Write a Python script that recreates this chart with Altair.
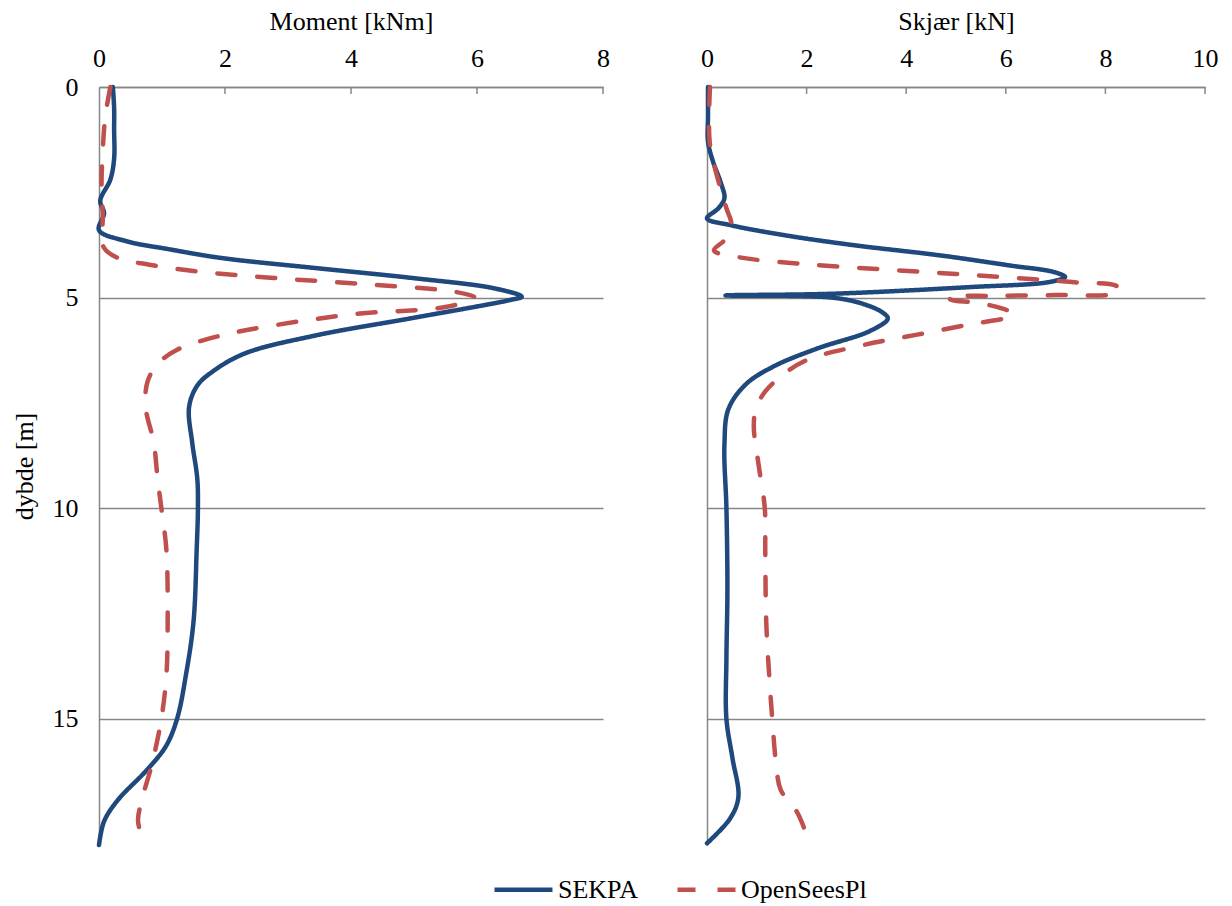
import altair as alt
import pandas as pd

# ---------------- data ----------------
SERIES = ["SEKPA", "OpenSeesPl"]

mom_sekpa_depth = [0, 0.5, 1.0, 1.7, 2.2, 2.7, 3.0, 3.4, 3.66, 3.85, 4.06, 4.3, 4.54, 4.78, 4.98,
                   5.06, 5.48, 5.9, 6.33, 6.75, 7.09, 7.6, 8.45, 9.3, 10, 11, 12.7, 13.96, 15,
                   15.66, 16.25, 16.93, 17.44, 18]
mom_sekpa_val = [0.22, 0.24, 0.24, 0.24, 0.18, 0.02, 0.08, 0.0, 0.43, 1.1, 1.94, 3.44, 5.0, 6.27, 6.71,
                 6.52, 5.0, 3.44, 2.31, 1.81, 1.56, 1.43, 1.48, 1.56, 1.57, 1.55, 1.5, 1.38, 1.24,
                 1.06, 0.74, 0.30, 0.08, 0.0]

mom_os_depth = [0, 0.7, 1.5, 2.3, 3.1, 3.5, 3.82, 4.06, 4.22, 4.38, 4.54, 4.70, 4.86, 5.0, 5.22,
                5.39, 5.65, 5.9, 6.24, 6.58, 7.0, 7.6, 8.45, 9.3, 10, 11, 12.7, 13.96, 15, 16.08,
                16.93, 17.44, 18]
mom_os_val = [0.18, 0.10, 0.06, 0.04, 0.06, 0.05, 0.08, 0.30, 0.80, 1.56, 2.82, 4.39, 5.64, 5.96, 5.52,
              4.07, 2.82, 1.94, 1.24, 0.93, 0.77, 0.74, 0.87, 0.93, 0.99, 1.07, 1.09, 1.07, 0.99, 0.84,
              0.68, 0.62, 0.73]

sh_sekpa_depth = [0, 0.7, 1.3, 1.77, 2.25, 2.64, 2.88, 3.12, 3.28, 3.52, 3.76, 4.0, 4.24, 4.39, 4.51,
                  4.63, 4.75, 4.91, 4.95, 5.0, 5.15, 5.35, 5.5, 5.79, 6.22, 6.64, 7.06, 7.65, 8.5, 10,
                  11.9, 13.56, 15, 15.93, 16.86, 17.36, 17.96]
sh_sekpa_val = [0.02, 0.02, 0.02, 0.12, 0.27, 0.35, 0.23, 0.0, 0.47, 1.56, 2.97, 4.69, 6.09, 6.95, 7.19,
                6.88, 5.31, 2.5, 0.37, 2.5, 3.13, 3.52, 3.63, 3.28, 2.19, 1.33, 0.78, 0.43, 0.35, 0.39,
                0.41, 0.39, 0.39, 0.51, 0.63, 0.47, 0.0]

sh_os_depth = [0, 0.73, 1.37, 1.93, 2.4, 2.88, 3.24, 3.45, 3.64, 3.88, 4.04, 4.19, 4.44, 4.56, 4.64,
               4.71, 4.82, 4.91, 4.94, 4.96, 4.99, 5.05, 5.12, 5.25, 5.38, 5.45, 5.63, 5.88, 6.13,
               6.47, 6.8, 7.23, 7.65, 8.07, 8.92, 10, 11.03, 12.72, 13.99, 15, 16.1, 16.69, 17.2,
               17.6, 18]
sh_os_val = [0.06, 0.04, 0.06, 0.16, 0.27, 0.39, 0.49, 0.45, 0.35, 0.14, 0.63, 1.8, 5.0, 6.5, 7.42,
             8.2, 8.3, 8.2, 7.0, 5.8, 4.85, 4.9, 5.4, 5.9, 6.15, 6.1, 5.31, 4.22, 3.13,
             2.03, 1.56, 1.17, 0.98, 0.94, 1.03, 1.16, 1.17, 1.19, 1.25, 1.31, 1.39, 1.48, 1.8,
             1.95, 2.05]

mom_ticks = [2, 4, 6, 8]
sh_ticks = [2, 4, 6, 8, 10]
depth_ticks = [0, 5, 10, 15]

BLUE = "#1F497D"
RED = "#C0504D"
GRAY = "#868686"
FONT = "Liberation Serif"
FS = 26


def frame(depth, val, series):
    return pd.DataFrame({"depth": depth, "value": val, "series": series,
                         "idx": list(range(len(depth)))})


color = alt.Color("series:N", scale=alt.Scale(domain=SERIES, range=[BLUE, RED]),
                  legend=alt.Legend(title=None, orient="none", direction="horizontal",
                                    legendX=393, legendY=771, symbolType="stroke",
                                    symbolSize=3364, symbolStrokeWidth=4.5,
                                    labelFont=FONT, labelFontSize=FS, labelColor="black",
                                    labelOffset=3, columnPadding=30))
dash = alt.StrokeDash("series:N", scale=alt.Scale(domain=SERIES, range=[[1, 0], [18, 22]]),
                      legend=None)


def panel(df_a, df_b, xmax, ticks, title, first):
    xenc = alt.X("value:Q", scale=alt.Scale(domain=[0, xmax], nice=False),
                 axis=alt.Axis(orient="top", title=title, values=[0] + ticks, format="d",
                               grid=False, ticks=False, labelFlush=False, labelPadding=16,
                               titlePadding=11))
    if first:
        yaxis = alt.Axis(values=depth_ticks, title="dybde [m]", format="d", grid=True,
                         ticks=False, labelPadding=21, titlePadding=15)
    else:
        yaxis = alt.Axis(values=depth_ticks, title=None, labels=False, grid=True, ticks=False)
    yenc = alt.Y("depth:Q", scale=alt.Scale(domain=[0, 18], reverse=True, nice=False), axis=yaxis)

    la = alt.Chart(df_a).mark_line(strokeWidth=4.5, interpolate="catmull-rom", strokeCap="round").encode(
        x=xenc, y=yenc, order="idx:Q", color=color, strokeDash=dash)
    lb = alt.Chart(df_b).mark_line(strokeWidth=4.5, interpolate="catmull-rom", strokeCap="round").encode(
        x=xenc, y=yenc, order="idx:Q", color=color, strokeDash=dash)
    tk = alt.Chart(pd.DataFrame({"value": ticks})).mark_rule(color=GRAY, strokeWidth=1.5).encode(
        x=xenc, y=alt.value(0), y2=alt.value(7))
    return alt.layer(la, lb, tk).properties(width=504 if first else 498, height=758)


left = panel(frame(mom_sekpa_depth, mom_sekpa_val, "SEKPA"),
             frame(mom_os_depth, mom_os_val, "OpenSeesPl"), 8, mom_ticks, "Moment [kNm]", True)
right = panel(frame(sh_sekpa_depth, sh_sekpa_val, "SEKPA"),
              frame(sh_os_depth, sh_os_val, "OpenSeesPl"), 10, sh_ticks, "Skjær [kN]", False)

chart = (
    alt.hconcat(left, right, spacing=104, bounds="flush")
    .resolve_scale(x="independent")
    .properties(padding={"left": 3, "top": 0, "right": 5, "bottom": 5})
    .configure(font=FONT)
    .configure_view(stroke=None)
    .configure_axis(labelFont=FONT, labelFontSize=FS, labelColor="black",
                    titleFont=FONT, titleFontSize=FS, titleFontWeight="normal", titleColor="black",
                    domainColor=GRAY, domainWidth=1.5, gridColor=GRAY, gridWidth=1.5)
    .configure_legend(labelFont=FONT, labelFontSize=FS, labelColor="black")
)

chart.save("out.html", embed_options={"renderer": "svg", "actions": False})
